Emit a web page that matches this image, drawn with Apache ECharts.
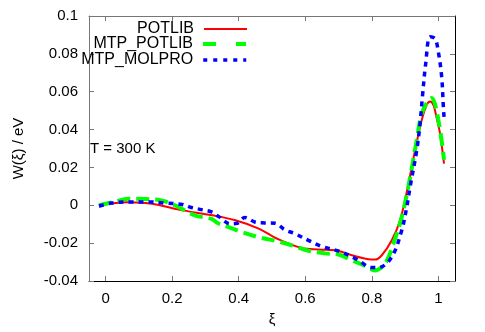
<!DOCTYPE html>
<html>
<head>
<meta charset="utf-8">
<script src="https://cdn.jsdelivr.net/npm/echarts@6/dist/echarts.min.js"></script>
<style>html,body{margin:0;padding:0;background:#fff}#c{width:485px;height:332px}</style>
</head>
<body>
<div id="c"></div>
<script>
var potlibX = [-0.02, 0.03, 0.06, 0.12, 0.16, 0.22, 0.32, 0.39, 0.46, 0.52, 0.59, 0.64, 0.69, 0.74, 0.79, 0.81, 0.83, 0.86, 0.885, 0.905, 0.93, 0.95, 0.965, 0.975, 0.985, 0.995, 1.005, 1.017];
var potlibY = [0, 0.0012, 0.0016, 0.0012, 0.0002, -0.0023, -0.0053, -0.0079, -0.0123, -0.018, -0.0226, -0.0234, -0.0238, -0.0264, -0.0285, -0.0287, -0.0264, -0.0185, -0.0079, 0.007, 0.029, 0.045, 0.053, 0.0548, 0.053, 0.046, 0.0379, 0.022];

var mtpPotlibX = [-0.02, 0.03, 0.067, 0.12, 0.167, 0.208, 0.268, 0.318, 0.338, 0.37, 0.408, 0.458, 0.508, 0.559, 0.609, 0.659, 0.7, 0.739, 0.78, 0.809, 0.84, 0.865, 0.89, 0.91, 0.935, 0.95, 0.97, 0.98, 1.0, 1.017];
var mtpPotlibY = [0, 0.002, 0.0035, 0.0033, 0.0026, 0, -0.0053, -0.0072, -0.0095, -0.0115, -0.0141, -0.0168, -0.0187, -0.0211, -0.024, -0.0254, -0.026, -0.029, -0.032, -0.0344, -0.0308, -0.0202, -0.0062, 0.01, 0.0344, 0.0485, 0.0555, 0.0567, 0.045, 0.024];

var mtpMolproX = [-0.02, 0.017, 0.077, 0.127, 0.177, 0.228, 0.258, 0.288, 0.318, 0.34, 0.375, 0.395, 0.418, 0.448, 0.478, 0.509, 0.539, 0.569, 0.609, 0.649, 0.709, 0.759, 0.799, 0.82, 0.86, 0.89, 0.905, 0.915, 0.935, 0.945, 0.952, 0.962, 0.975, 0.99, 1.0, 1.01, 1.015, 1.017];
var mtpMolproY = [-0.0005, 0.0012, 0.0018, 0.0018, 0.0012, 0.0005, -0.0012, -0.0023, -0.0035, -0.006, -0.0098, -0.0095, -0.0065, -0.0088, -0.0093, -0.0095, -0.013, -0.015, -0.0185, -0.0217, -0.0247, -0.029, -0.0329, -0.0329, -0.0273, -0.0132, -0.0009, 0.0097, 0.029, 0.0432, 0.0572, 0.0749, 0.089, 0.088, 0.081, 0.0678, 0.052, 0.0467];

var xTicks = [0, 0.2, 0.4, 0.6, 0.8, 1];
var xTickLabels = ['0', '0.2', '0.4', '0.6', '0.8', '1'];
var yTicks = [-0.04, -0.02, 0, 0.02, 0.04, 0.06, 0.08, 0.1];
var yTickLabels = ['-0.04', '-0.02', '0', '0.02', '0.04', '0.06', '0.08', '0.1'];
var seriesNames = ['POTLIB', 'MTP_POTLIB', 'MTP_MOLPRO'];

function pairs(xs, ys) { return xs.map(function (x, i) { return [x, ys[i]]; }); }
function labelFor(ticks, labels) {
  return function (v) {
    for (var i = 0; i < ticks.length; i++) if (Math.abs(ticks[i] - v) < 1e-9) return labels[i];
    return '';
  };
}

var FONT = 'Liberation Sans, Arial, Helvetica, sans-serif';
var chart = echarts.init(document.getElementById('c'), null, {renderer: 'canvas'});

function legendAt(name, top, dash, width) {
  return {
    data: [name], right: 237, top: top, align: 'right', orient: 'vertical',
    itemWidth: 43, itemHeight: 14, padding: 0,
    itemStyle: {opacity: 0},
    lineStyle: {type: dash, width: width},
    textStyle: {fontFamily: FONT, fontSize: 16, color: '#000', padding: [0, 5, 0, 0]},
    selectedMode: false
  };
}

var option = {
  animation: false,
  backgroundColor: '#fff',
  grid: {left: 89, right: 30, top: 16, bottom: 51},
  legend: [
    legendAt('POTLIB', 21, 'solid', 2),
    legendAt('MTP_POTLIB', 36, [13, 20], 4),
    legendAt('MTP_MOLPRO', 52, [4, 6], 3.5)
  ],
  graphic: [{
    type: 'text', left: 90, top: 141,
    style: {text: 'T = 300 K', font: '15px ' + FONT, fill: '#000'}
  }],
  xAxis: [{
    type: 'value', min: -0.05, max: 1.05, position: 'bottom',
    name: 'ξ', nameLocation: 'middle', nameGap: 31,
    nameTextStyle: {fontFamily: FONT, fontSize: 15, color: '#000'},
    axisLine: {show: true, onZero: false, lineStyle: {color: '#000', width: 1}},
    axisTick: {show: true, inside: true, length: 5, customValues: xTicks, lineStyle: {color: '#777'}},
    axisLabel: {show: true, customValues: xTicks, formatter: labelFor(xTicks, xTickLabels), fontFamily: FONT, fontSize: 15, color: '#000', margin: 10},
    splitLine: {show: false}
  }, {
    type: 'value', min: -0.05, max: 1.05, position: 'top',
    axisLine: {show: true, onZero: false, lineStyle: {color: '#777', width: 1}},
    axisTick: {show: true, inside: true, length: 5, customValues: xTicks, lineStyle: {color: '#777'}},
    axisLabel: {show: false},
    splitLine: {show: false}
  }],
  yAxis: [{
    type: 'value', min: -0.04, max: 0.1, interval: 0.02, position: 'left',
    name: 'W(ξ) / eV', nameLocation: 'middle', nameGap: 63, nameRotate: 90,
    nameTextStyle: {fontFamily: FONT, fontSize: 15, color: '#000'},
    axisLine: {show: true, onZero: false, lineStyle: {color: '#777', width: 1}},
    axisTick: {show: true, inside: true, length: 5, lineStyle: {color: '#777'}},
    axisLabel: {show: true, formatter: labelFor(yTicks, yTickLabels), fontFamily: FONT, fontSize: 15, color: '#000', margin: 11},
    splitLine: {show: false}
  }, {
    type: 'value', min: -0.04, max: 0.1, interval: 0.02, position: 'right',
    axisLine: {show: true, onZero: false, lineStyle: {color: '#000', width: 1}},
    axisTick: {show: true, inside: true, length: 5, lineStyle: {color: '#777'}},
    axisLabel: {show: false},
    splitLine: {show: false}
  }],
  series: [{
    name: seriesNames[0], type: 'line', data: pairs(potlibX, potlibY),
    symbol: 'none', smooth: 0.35, lineStyle: {color: '#ff0000', width: 2}, itemStyle: {color: '#ff0000'}
  }, {
    name: seriesNames[1], type: 'line', data: pairs(mtpPotlibX, mtpPotlibY),
    symbol: 'none', smooth: 0.35, lineStyle: {color: '#00ff00', width: 4, type: [13, 6]}, itemStyle: {color: '#00ff00'}
  }, {
    name: seriesNames[2], type: 'line', data: pairs(mtpMolproX, mtpMolproY),
    symbol: 'none', smooth: 0.35, lineStyle: {color: '#0000ff', width: 3.5, type: [5, 5]}, itemStyle: {color: '#0000ff'}
  }]
};
chart.setOption(option);
</script>
</body>
</html>
